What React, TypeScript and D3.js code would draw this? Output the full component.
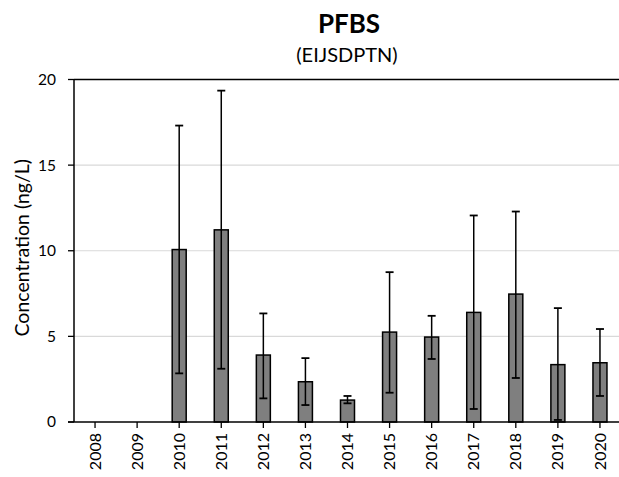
import React from "react";
import * as d3 from "d3";

const years = ["2008","2009","2010","2011","2012","2013","2014","2015","2016","2017","2018","2019","2020"];
const means: (number | null)[] = [null, null, 10.07, 11.22, 3.91, 2.35, 1.28, 5.25, 4.96, 6.4, 7.47, 3.35, 3.46];
const errHigh: (number | null)[] = [null, null, 17.31, 19.35, 6.34, 3.73, 1.52, 8.75, 6.2, 12.06, 12.29, 6.65, 5.43];
const errLow: (number | null)[] = [null, null, 2.84, 3.11, 1.38, 0.99, 1.09, 1.71, 3.68, 0.76, 2.57, 0.12, 1.52];
const yTicks = [0, 5, 10, 15, 20];

const W = 619, H = 477;
const left = 74, right = 621, top = 79.5, bottom = 422;
const font = "Lato, 'Open Sans', sans-serif";

export default function App() {
  const x = d3.scaleBand<string>().domain(years).range([left, right]).paddingInner(0).paddingOuter(0);
  const y = d3.scaleLinear().domain([0, 20]).range([bottom, top]);
  const bw = 14;
  const cap = 4;
  return (
    <svg width={W} height={H} style={{ position: "absolute", left: 0, top: 0, background: "#fff" }} fontFamily={font}>
      <text x={349} y={33} textAnchor="middle" fontSize={26} fontWeight="bold" fill="#000">PFBS</text>
      <text x={347} y={62} textAnchor="middle" fontSize={20} fill="#000">(EIJSDPTN)</text>
      {yTicks.filter(t => t > 0 && t < 20).map(t => (
        <line key={"g" + t} x1={left} x2={W} y1={y(t)} y2={y(t)} stroke="#d9d9d9" strokeWidth={1.2} />
      ))}
      {yTicks.map(t => (
        <g key={"yt" + t}>
          <line x1={left - 6} x2={left} y1={y(t)} y2={y(t)} stroke="#000" strokeWidth={1.3} />
          <text x={left - 18} y={y(t)} dy="0.35em" textAnchor="end" fontSize={15.5} fill="#000">{t}</text>
        </g>
      ))}
      <text transform={`translate(22,${(top + bottom) / 2 - 3}) rotate(-90)`} textAnchor="middle" fontSize={19.5} fill="#000" dy="0.35em">Concentration (ng/L)</text>
      {years.map((yr, i) => {
        const m = means[i];
        if (m == null) return null;
        const cx = x(yr)! + x.bandwidth() / 2;
        const hi = errHigh[i]!, lo = errLow[i]!;
        return (
          <g key={"b" + yr}>
            <rect x={cx - bw / 2} y={y(m)} width={bw} height={y(0) - y(m)} fill="#7f7f7f" stroke="#000" strokeWidth={1.5} />
            <line x1={cx} x2={cx} y1={y(hi)} y2={y(lo)} stroke="#000" strokeWidth={1.5} />
            <line x1={cx - cap} x2={cx + cap} y1={y(hi)} y2={y(hi)} stroke="#000" strokeWidth={1.8} />
            <line x1={cx - cap} x2={cx + cap} y1={y(lo)} y2={y(lo)} stroke="#000" strokeWidth={1.8} />
          </g>
        );
      })}
      <line x1={left} x2={left} y1={top} y2={bottom} stroke="#000" strokeWidth={1.5} />
      <line x1={left} x2={W} y1={top} y2={top} stroke="#000" strokeWidth={1.5} />
      <line x1={left - 6} x2={W} y1={bottom} y2={bottom} stroke="#000" strokeWidth={1.5} />
      {years.map(yr => {
        const cx = x(yr)! + x.bandwidth() / 2;
        return (
          <g key={"xt" + yr}>
            <line x1={cx} x2={cx} y1={bottom} y2={bottom + 6} stroke="#000" strokeWidth={1.3} />
            <text transform={`translate(${cx},${bottom + 11}) rotate(-90)`} textAnchor="end" dy="0.35em" fontSize={16} fill="#000">{yr}</text>
          </g>
        );
      })}
    </svg>
  );
}
